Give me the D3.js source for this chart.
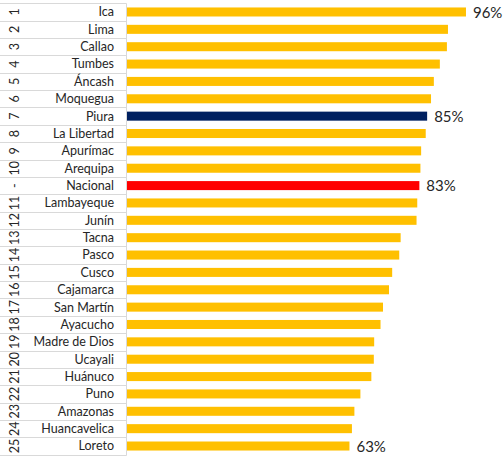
<!DOCTYPE html>
<html>
<head>
<meta charset="utf-8">
<script src="https://cdn.jsdelivr.net/npm/d3@7"></script>
<style>
  body { margin: 0; background: #fff; }
  svg text { font-family: Lato, "Noto Sans", sans-serif; }
</style>
</head>
<body>
<div id="chart"></div>
<script>
// datos
let regiones = ["Ica", "Lima", "Callao", "Tumbes", "Áncash", "Moquegua", "Piura", "La Libertad",
    "Apurímac", "Arequipa", "Nacional", "Lambayeque", "Junín", "Tacna", "Pasco", "Cusco",
    "Cajamarca", "San Martín", "Ayacucho", "Madre de Dios", "Ucayali", "Huánuco", "Puno",
    "Amazonas", "Huancavelica", "Loreto"];
let puestos = ["1", "2", "3", "4", "5", "6", "7", "8", "9", "10", "-", "11", "12", "13", "14", "15",
    "16", "17", "18", "19", "20", "21", "22", "23", "24", "25"];
let valores = [96.0, 90.9, 90.6, 88.6, 86.9, 86.1, 85.0, 84.6, 83.3, 83.1, 82.8, 82.2, 82.0,
    77.5, 77.1, 75.1, 74.2, 72.5, 71.8, 70.0, 69.9, 69.2, 66.1, 64.4, 63.7, 63.0];
let etiquetas = { "Ica": "96%", "Piura": "85%", "Nacional": "83%", "Loreto": "63%" };

let width = 503, height = 457;
let margin = { top: 3.3, bottom: 2.3, axis: 126.5 };

let colores = { base: "#FFC000", "Piura": "#002060", "Nacional": "#FF0000" };

let data = regiones.map((r, i) => ({ region: r, puesto: puestos[i], valor: valores[i] }));

let svg = d3.select('#chart').append('svg')
    .attr('width', width)
    .attr('height', height);

let y = d3.scaleBand()
    .domain(regiones)
    .range([margin.top, height - margin.bottom])
    .paddingInner(0.48)
    .paddingOuter(0.24);

let x = d3.scaleLinear()
    .domain([0, 100])
    .range([margin.axis + 0.5, margin.axis + 0.5 + 353.1]);

let rowTop = r => y(r) + y.bandwidth() / 2 - y.step() / 2;

// lineas separadoras del eje de categorias
let lines = regiones.map(rowTop).concat([rowTop(regiones[regiones.length - 1]) + y.step()]);
svg.append('g')
    .selectAll('line')
    .data(lines)
    .enter()
    .append('line')
    .attr('x1', 0)
    .attr('x2', margin.axis)
    .attr('y1', d => Math.round(d) + 0.5)
    .attr('y2', d => Math.round(d) + 0.5)
    .style('stroke', '#d9d9d9')
    .style('stroke-width', 1);

svg.append('line')
    .attr('x1', margin.axis)
    .attr('x2', margin.axis)
    .attr('y1', Math.round(margin.top) + 0.5)
    .attr('y2', Math.round(lines[lines.length - 1]) + 0.5)
    .style('stroke', '#d9d9d9');

// barras
svg.append('g')
    .selectAll('rect')
    .data(data)
    .enter()
    .append('rect')
    .attr('x', x(0))
    .attr('y', d => y(d.region))
    .attr('height', y.bandwidth())
    .attr('width', d => x(d.valor) - x(0))
    .style('fill', d => colores[d.region] || colores.base);

// nombres
svg.append('g')
    .selectAll('text')
    .data(data)
    .enter()
    .append('text')
    .attr('x', 114)
    .attr('y', d => y(d.region) + y.bandwidth() / 2)
    .attr('dy', '0.35em')
    .attr('text-anchor', 'end')
    .style('font-size', '12.5px')
    .style('fill', '#262626')
    .text(d => d.region);

// puestos (rotados)
svg.append('g')
    .selectAll('text')
    .data(data)
    .enter()
    .append('text')
    .attr('transform', d => `translate(15,${y(d.region) + y.bandwidth() / 2}) rotate(-90)`)
    .attr('dy', '0.35em')
    .attr('text-anchor', 'middle')
    .style('font-size', '12.5px')
    .style('fill', '#262626')
    .text(d => d.puesto);

// etiquetas de valor
svg.append('g')
    .selectAll('text')
    .data(data.filter(d => etiquetas[d.region]))
    .enter()
    .append('text')
    .attr('x', d => x(d.valor) + 7)
    .attr('y', d => y(d.region) + y.bandwidth() / 2)
    .attr('dy', '0.38em')
    .style('font-size', '15px')
    .style('fill', '#262626')
    .text(d => etiquetas[d.region]);
</script>
</body>
</html>
